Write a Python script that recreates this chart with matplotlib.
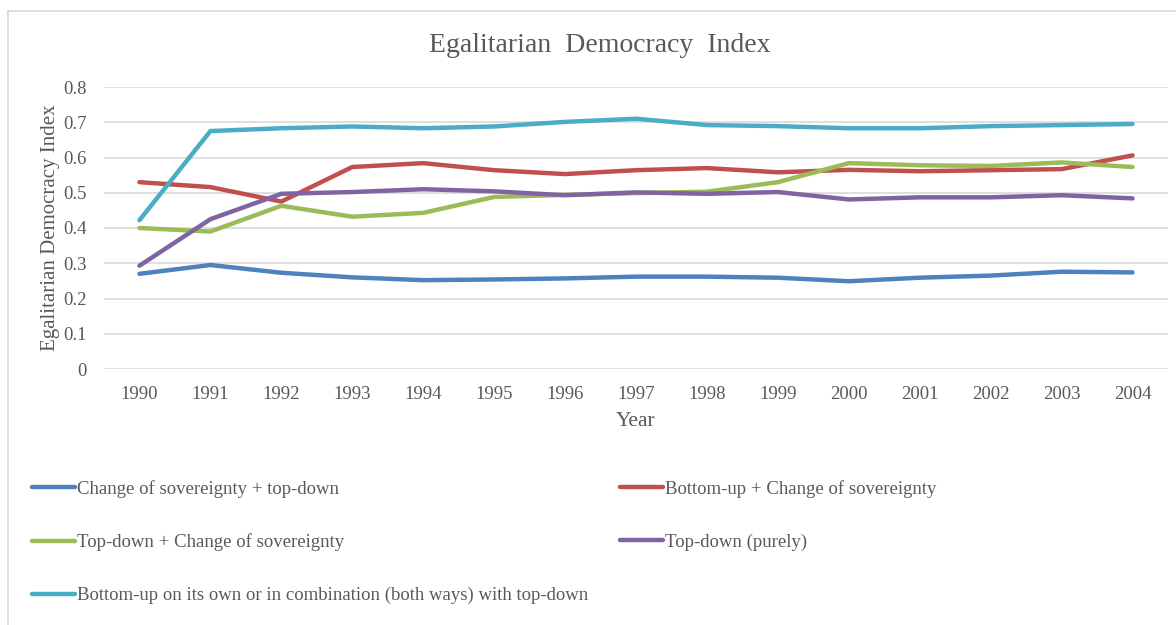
import matplotlib
matplotlib.use("Agg")
import matplotlib.pyplot as plt
from matplotlib.lines import Line2D

years = ["1990", "1991", "1992", "1993", "1994", "1995", "1996", "1997",
         "1998", "1999", "2000", "2001", "2002", "2003", "2004"]

cos_topdown = [0.270, 0.295, 0.273, 0.260, 0.252, 0.254, 0.257, 0.262,
               0.262, 0.259, 0.249, 0.259, 0.265, 0.276, 0.274]
bottomup_cos = [0.530, 0.516, 0.475, 0.573, 0.584, 0.564, 0.553, 0.564,
                0.570, 0.558, 0.565, 0.561, 0.564, 0.567, 0.606]
topdown_cos = [0.400, 0.390, 0.463, 0.432, 0.443, 0.488, 0.494, 0.499,
               0.503, 0.530, 0.584, 0.578, 0.576, 0.586, 0.573]
topdown_pure = [0.293, 0.425, 0.497, 0.502, 0.510, 0.504, 0.493, 0.501,
                0.497, 0.502, 0.481, 0.487, 0.487, 0.493, 0.484]
bottomup_any = [0.422, 0.675, 0.683, 0.688, 0.683, 0.688, 0.701, 0.710,
                0.692, 0.689, 0.683, 0.683, 0.689, 0.692, 0.695]

labels = [
    "Change of sovereignty + top-down",
    "Bottom-up + Change of sovereignty",
    "Top-down + Change of sovereignty",
    "Top-down (purely)",
    "Bottom-up on its own or in combination (both ways) with top-down",
]
series = [cos_topdown, bottomup_cos, topdown_cos, topdown_pure, bottomup_any]
colors = ["#4F81BD", "#C0504D", "#9BBB59", "#8064A2", "#4BACC6"]

yticks = [0, 0.1, 0.2, 0.3, 0.4, 0.5, 0.6, 0.7, 0.8]
ytick_labels = ["0", "0.1", "0.2", "0.3", "0.4", "0.5", "0.6", "0.7", "0.8"]

plt.rcParams["font.family"] = ["Liberation Serif", "DejaVu Serif"]
txt = "#595959"

fig = plt.figure(figsize=(11.76, 6.25), dpi=100)
ax = fig.add_axes([104 / 1176, 1 - 369 / 625, 1064 / 1176, 282 / 625])

x = list(range(len(years)))
lines = []
for vals, c, lab in zip(series, colors, labels):
    ln, = ax.plot(x, vals, color=c, lw=3.2, label=lab, solid_capstyle="round",
                  solid_joinstyle="round", zorder=3)
    lines.append(ln)

ax.set_xlim(-0.5, len(years) - 0.5)
ax.set_ylim(0, 0.8)
ax.set_yticks(yticks)
ax.set_yticklabels(ytick_labels)
ax.set_xticks(x)
ax.set_xticklabels(years)
ax.grid(axis="y", color="#D9D9D9", lw=1.2)
ax.set_axisbelow(True)
for s in ax.spines.values():
    s.set_visible(False)
ax.tick_params(length=0, labelsize=13.5, colors=txt)
ax.tick_params(axis="x", pad=12)
ax.tick_params(axis="y", pad=12.5)

ax.set_xlabel("Year", fontsize=15.5, color=txt, labelpad=7)
ax.set_ylabel("Egalitarian Democracy Index", fontsize=15, color=txt, labelpad=2)
fig.text(600 / 1176, 1 - 45 / 625, "Egalitarian  Democracy  Index", ha="center",
         va="center", fontsize=20, color=txt)

leg_kw = dict(frameon=False, fontsize=13.5, handlelength=2.3, handletextpad=0.1,
              labelspacing=1.9, borderpad=0, borderaxespad=0, labelcolor=txt)
fig.legend([lines[0], lines[2], lines[4]], [labels[0], labels[2], labels[4]],
           loc="upper left", bbox_to_anchor=(32 / 1176, 1 - 480 / 625), **leg_kw)
fig.legend([lines[1], lines[3]], [labels[1], labels[3]],
           loc="upper left", bbox_to_anchor=(620 / 1176, 1 - 480 / 625), **leg_kw)

# chart-area border (top and left visible)
fig.add_artist(Line2D([7.5 / 1176, 7.5 / 1176], [0, 1 - 11 / 625],
                      transform=fig.transFigure, color="#D9D9D9", lw=1.2))
fig.add_artist(Line2D([7.5 / 1176, 1], [1 - 11 / 625, 1 - 11 / 625],
                      transform=fig.transFigure, color="#D9D9D9", lw=1.2))

fig.savefig("out.png", dpi=100, facecolor="white")
